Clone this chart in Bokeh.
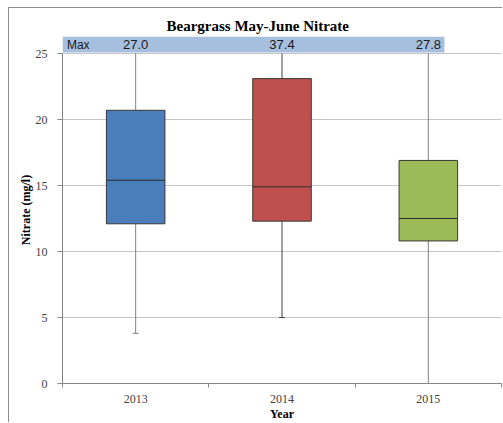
from bokeh.plotting import figure
from bokeh.models import Range1d, FixedTicker, ColumnDataSource
from bokeh.embed import file_html
from bokeh.resources import INLINE
from bokeh.core.properties import value
import numpy as np

years = ["2013", "2014", "2015"]
q1 = [12.1, 12.3, 10.8]
median = [15.4, 14.9, 12.5]
q3 = [20.7, 23.1, 16.9]
mins = [3.8, 5.0, 0.0]
maxs = [27.0, 37.4, 27.8]
colors = ["#4A7EBB", "#C0504D", "#9BBB59"]
whisker_colors = ["#808080", "#404040", "#808080"]
y_ticks = [0, 5, 10, 15, 20, 25]
y_top = 25

xs = np.arange(len(years)) + 0.5
ymax_range = 26.29

p = figure(width=494, height=415, output_backend="svg", toolbar_location=None,
           x_range=Range1d(0, len(years)), y_range=Range1d(0, ymax_range),
           min_border_left=53, min_border_right=2, min_border_top=28, min_border_bottom=40,
           title="Beargrass May-June Nitrate")
p.styles = {"margin-left": "8px", "margin-top": "7px",
            "border-left": "1px solid #8e8e8e", "border-top": "1px solid #8e8e8e"}
p.outline_line_color = None
p.background_fill_color = "white"
p.border_fill_color = "white"

p.title.text_font = "Liberation Serif"
p.title.text_font_size = "15px"
p.title.text_font_style = "bold"
p.title.text_color = "#000000"
p.title.align = "left"
p.title.offset = 104
p.title.standoff = 6

# axes
p.xaxis.ticker = FixedTicker(ticks=list(xs), minor_ticks=list(range(len(years) + 1)))
p.xaxis.major_label_overrides = {float(x): y for x, y in zip(xs, years)}
p.xaxis.major_tick_line_color = None
p.xaxis.minor_tick_out = 4
p.xaxis.minor_tick_in = 0
p.xaxis.minor_tick_line_color = "#868686"
p.xaxis.axis_line_color = "#868686"
p.xaxis.axis_label = "Year"
p.yaxis.ticker = FixedTicker(ticks=y_ticks, minor_ticks=[])
p.yaxis.bounds = (0, y_top)
p.yaxis.axis_line_color = "#868686"
p.yaxis.major_tick_line_color = "#868686"
p.yaxis.major_tick_out = 5
p.yaxis.major_tick_in = 0
p.yaxis.minor_tick_line_color = None
p.yaxis.axis_label = "Nitrate (mg/l)"
for ax in (p.xaxis[0], p.yaxis[0]):
    ax.major_label_text_font = "Liberation Serif"
    ax.major_label_text_font_size = "12px"
    ax.major_label_text_color = "#404040"
    ax.axis_label_text_font = "Liberation Serif"
    ax.axis_label_text_font_size = "12px"
    ax.axis_label_text_font_style = "bold"
    ax.axis_label_text_color = "#000000"
p.xaxis.major_label_standoff = 5
p.xaxis.axis_label_standoff = 1
p.yaxis.major_label_standoff = 10
p.yaxis.axis_label_standoff = 0

p.xgrid.grid_line_color = None
p.ygrid.ticker = FixedTicker(ticks=y_ticks)
p.ygrid.grid_line_color = "#c6c6c6"
p.ygrid.bounds = (0, y_top)

src = ColumnDataSource(dict(x=xs, q1=q1, med=median, q3=q3, mn=mins,
                            mx=np.minimum(maxs, y_top), color=colors, wc=whisker_colors))

# whiskers
p.segment(x0="x", y0="q3", x1="x", y1="mx", line_color="wc", line_width=1, source=src)
p.segment(x0="x", y0="mn", x1="x", y1="q1", line_color="wc", line_width=1, source=src)
p.segment(x0=xs - 0.02, y0=mins, x1=xs + 0.02, y1=mins, line_color=whisker_colors, line_width=1)

# boxes
p.vbar(x="x", width=0.4, bottom="q1", top="q3", fill_color="color", line_color="#3a3a3a",
       line_width=1, source=src)
p.segment(x0=xs - 0.2, y0=median, x1=xs + 0.2, y1=median, line_color="#2e2e2e", line_width=1)

# max band
p.quad(left=[0], right=[2.61], bottom=[25.08], top=[ymax_range], fill_color="#A7BFDE",
       line_color=None)
p.text(x=[0.03], y=[25.68], text=["Max"], text_font=value("Liberation Sans"),
       text_font_size="12px", text_baseline="middle", text_align="left", text_color="#1a1a1a")
p.text(x=xs, y=[25.68] * len(xs), text=["%.1f" % m for m in maxs],
       text_font=value("Liberation Sans"), text_font_size="13px", text_baseline="middle",
       text_align="center", text_color="#1a1a1a")

open("out.html", "w").write(file_html(p, INLINE))
